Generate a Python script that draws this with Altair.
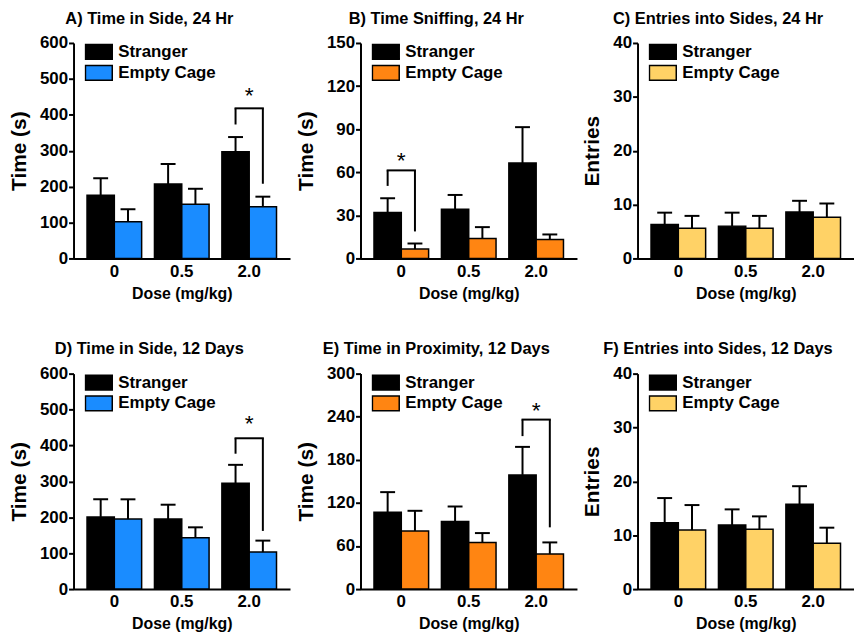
import altair as alt
import pandas as pd

FONT = "Liberation Sans"

doses = ["0", "0.5", "2.0"]
groups = ["Stranger", "Empty Cage"]

# Panel A
a_stranger = [176, 207, 297]
a_stranger_upper = [223, 263, 338]
a_empty = [102, 151, 144]
a_empty_upper = [137, 194, 172]
a_bracket = ["2.0", 373, 418, 208, 452]  # dose, left leg bottom, top, right leg bottom, star

# Panel B
b_stranger = [32.0, 34.3, 66.4]
b_stranger_upper = [41.9, 44.2, 91.4]
b_empty = [6.5, 13.9, 13.2]
b_empty_upper = [10.4, 21.8, 16.7]
b_bracket = ["0", 50.5, 61.3, 18.8, 68]

# Panel C
c_stranger = [6.3, 6.0, 8.6]
c_stranger_upper = [8.5, 8.5, 10.7]
c_empty = [5.6, 5.6, 7.65]
c_empty_upper = [7.9, 7.9, 10.2]

# Panel D
d_stranger = [201, 195, 295]
d_stranger_upper = [250, 235, 346]
d_empty = [195, 143, 103]
d_empty_upper = [250, 172, 135]
d_bracket = ["2.0", 377, 420, 162, 460]

# Panel E
e_stranger = [107, 94, 159]
e_stranger_upper = [135, 115, 198]
e_empty = [81, 65, 49]
e_empty_upper = [109, 78, 65]
e_bracket = ["2.0", 213, 236, 86, 248]

# Panel F
f_stranger = [12.3, 11.9, 15.75]
f_stranger_upper = [16.9, 14.8, 19.1]
f_empty = [10.95, 11.1, 8.5]
f_empty_upper = [15.6, 13.5, 11.4]

panels = [
    dict(title="A) Time in Side, 24 Hr", ytitle="Time (s)", ymax=600, step=100, colour="#1A8CFF",
         s=a_stranger, su=a_stranger_upper, e=a_empty, eu=a_empty_upper, br=a_bracket),
    dict(title="B) Time Sniffing, 24 Hr", ytitle="Time (s)", ymax=150, step=30, colour="#FF8512",
         s=b_stranger, su=b_stranger_upper, e=b_empty, eu=b_empty_upper, br=b_bracket),
    dict(title="C) Entries into Sides, 24 Hr", ytitle="Entries", ymax=40, step=10, colour="#FFD266",
         s=c_stranger, su=c_stranger_upper, e=c_empty, eu=c_empty_upper, br=None),
    dict(title="D) Time in Side, 12 Days", ytitle="Time (s)", ymax=600, step=100, colour="#1A8CFF",
         s=d_stranger, su=d_stranger_upper, e=d_empty, eu=d_empty_upper, br=d_bracket),
    dict(title="E) Time in Proximity, 12 Days", ytitle="Time (s)", ymax=300, step=60, colour="#FF8512",
         s=e_stranger, su=e_stranger_upper, e=e_empty, eu=e_empty_upper, br=e_bracket),
    dict(title="F) Entries into Sides, 12 Days", ytitle="Entries", ymax=40, step=10, colour="#FFD266",
         s=f_stranger, su=f_stranger_upper, e=f_empty, eu=f_empty_upper, br=None),
]

W, H = 218, 217


def make_panel(p):
    rows = []
    for i, d in enumerate(doses):
        rows.append(dict(dose=d, group="Stranger", mean=p["s"][i], upper=p["su"][i]))
        rows.append(dict(dose=d, group="Empty Cage", mean=p["e"][i], upper=p["eu"][i]))
    df = pd.DataFrame(rows)

    xscale = alt.Scale(domain=doses, paddingInner=0.19, paddingOuter=0.2)
    xaxis = alt.Axis(title="Dose (mg/kg)", labelAngle=0, ticks=False, labelPadding=5,
                     titlePadding=6, titleFontSize=16, labelFontSize=17)
    x = alt.X("dose:N", scale=xscale, axis=xaxis)
    xoff = alt.XOffset("group:N", scale=alt.Scale(domain=groups, paddingInner=0, paddingOuter=0))
    yscale = alt.Scale(domain=[0, p["ymax"]], nice=False, zero=True)
    yaxis = alt.Axis(title=p["ytitle"], values=list(range(0, p["ymax"] + 1, p["step"])),
                     labelOverlap=False, labelPadding=1, titlePadding=10,
                     titleFontSize=21, labelFontSize=17)

    def Y(field):
        return alt.Y(field, scale=yscale, axis=yaxis)

    color = alt.Color(
        "group:N",
        scale=alt.Scale(domain=groups, range=["#000000", p["colour"]]),
        legend=alt.Legend(
            title=None, orient="none", legendX=11, legendY=-1.5, direction="vertical",
            symbolType="M-1,-0.55L1,-0.55L1,0.55L-1,0.55Z", symbolSize=729,
            symbolStrokeColor="black", symbolStrokeWidth=1.5, symbolOpacity=1,
            labelFont=FONT, labelFontSize=17, labelFontWeight="bold", labelColor="black",
            labelOffset=5, clipHeight=21, rowPadding=0, padding=0,
        ),
    )

    bars = alt.Chart(df).mark_bar(stroke="black", strokeWidth=1.5).encode(
        x=x, xOffset=xoff, y=Y("mean:Q"), color=color
    )
    err = alt.Chart(df).mark_rule(color="black", strokeWidth=2).encode(
        x=x, xOffset=xoff, y=Y("mean:Q"), y2="upper:Q"
    )
    caps = alt.Chart(df).mark_tick(color="black", thickness=2, size=15, opacity=1).encode(
        x=x, xOffset=xoff, y=Y("upper:Q")
    )
    layers = [bars, err, caps]

    if p["br"] is not None:
        dose, lb, top, rb, star = p["br"]
        legs = pd.DataFrame([
            dict(dose=dose, group="Stranger", y1=lb, y2=top),
            dict(dose=dose, group="Empty Cage", y1=rb, y2=top),
        ])
        hbar = pd.DataFrame([dict(dose=dose, y=top)])
        stardf = pd.DataFrame([dict(dose=dose, y=star, t="*")])
        layers.append(alt.Chart(legs).mark_rule(color="black", strokeWidth=2).encode(
            x=x, xOffset=xoff, y=Y("y1:Q"), y2="y2:Q"))
        layers.append(alt.Chart(hbar).mark_tick(color="black", thickness=2, size=29.5, opacity=1).encode(
            x=x, y=Y("y:Q")))
        layers.append(alt.Chart(stardf).mark_text(font=FONT, fontSize=23, color="black", baseline="middle").encode(
            x=x, y=Y("y:Q"), text="t:N"))

    return alt.layer(*layers).properties(
        width=W, height=H,
        title=alt.TitleParams(p["title"], font=FONT, fontSize=16.5, fontWeight="bold", color="black",
                              anchor="middle", frame="bounds", offset=7),
    )


charts = [make_panel(p) for p in panels]
row1 = alt.hconcat(*charts[:3], spacing=5).resolve_scale(color="independent", y="independent")
row2 = alt.hconcat(*charts[3:], spacing=5).resolve_scale(color="independent", y="independent")

chart = alt.vconcat(row1, row2, spacing=40).resolve_scale(
    color="independent", y="independent"
).properties(
    padding={"left": 0, "top": 0, "right": 0, "bottom": 0}
).configure_view(stroke=None).configure_axis(
    labelFont=FONT, titleFont=FONT, labelFontWeight="bold", titleFontWeight="bold",
    labelColor="black", titleColor="black", domainColor="black", domainWidth=2,
    tickColor="black", tickWidth=2, tickSize=5, grid=False,
).configure_legend(labelLimit=200)

chart.save("out.html", embed_options={"renderer": "svg", "actions": False})
